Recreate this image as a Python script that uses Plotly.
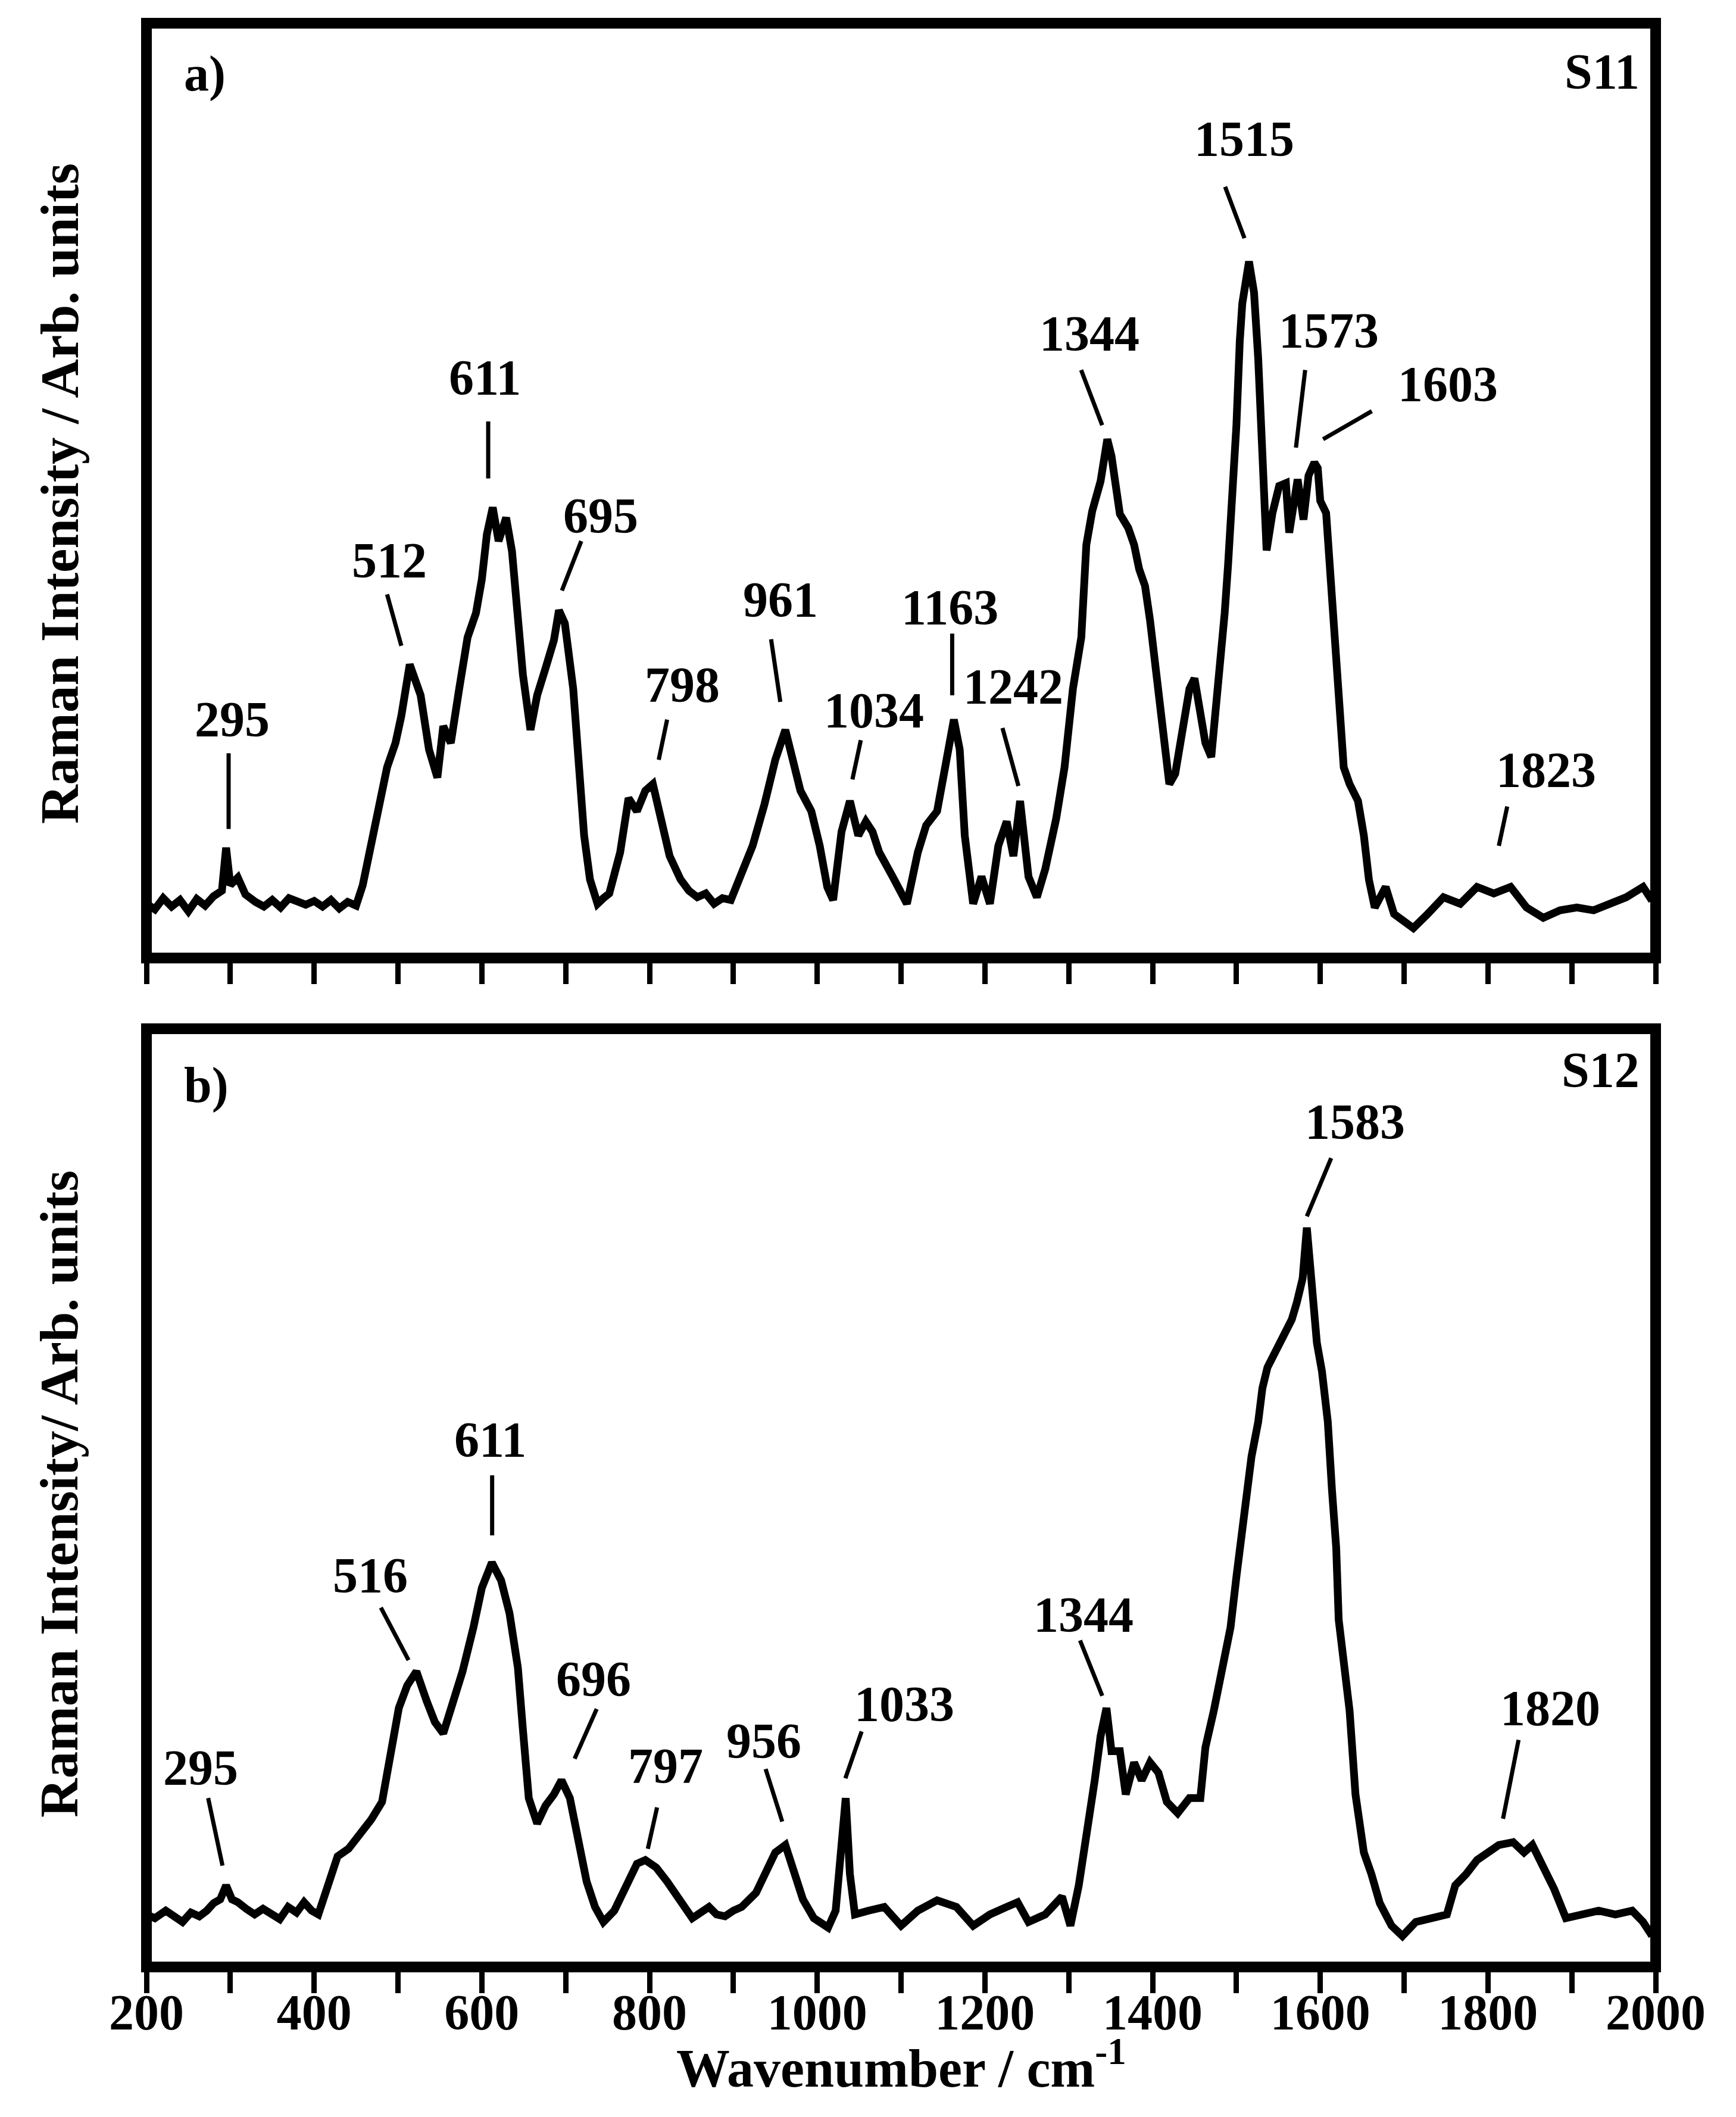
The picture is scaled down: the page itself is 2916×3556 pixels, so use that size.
import plotly.graph_objects as go

# ---------------- data ----------------
wavenumber_a = [200, 210, 220, 230, 240, 250, 260, 270, 280, 290, 295, 300, 309, 318, 330, 340, 350, 360, 370, 380,
                390, 400, 410, 420, 430, 440, 450, 458, 468, 478, 487, 497, 504, 514, 520, 527, 537, 547, 554, 563,
                573, 583, 593, 600, 606, 613, 620, 629, 636, 643, 649, 658, 666, 676, 686, 692, 699, 709, 715, 722,
                729, 738, 745, 752, 765, 775, 785, 795, 804, 814, 824, 837, 847, 857, 867, 877, 887, 897, 910, 923,
                937, 950, 962, 970, 980, 993, 1003, 1012, 1019, 1029, 1039, 1049, 1058, 1066, 1074, 1090, 1100, 1107,
                1120, 1130, 1143, 1153, 1163, 1170, 1176, 1186, 1196, 1206, 1216, 1226, 1234, 1242, 1252, 1262, 1272,
                1285, 1295, 1305, 1315, 1321, 1328, 1338, 1346, 1351, 1361, 1371, 1378, 1384, 1391, 1397, 1404, 1411,
                1417, 1420, 1427, 1437, 1444, 1450, 1457, 1463, 1470, 1477, 1486, 1490, 1496, 1500, 1504, 1507, 1515,
                1521, 1526, 1529, 1533, 1536, 1543, 1551, 1559, 1563, 1573, 1580, 1586, 1593, 1597, 1600, 1607, 1612,
                1619, 1622, 1628, 1635, 1645, 1652, 1658, 1665, 1678, 1688, 1700, 1711, 1728, 1747, 1767, 1787, 1807,
                1827, 1846, 1866, 1886, 1906, 1926, 1945, 1965, 1985, 1993, 2000]
intensity_a = [5.8, 5.2, 6.4, 5.5, 6.2, 5.0, 6.3, 5.6, 6.6, 7.2, 11.8, 7.8, 8.6, 6.8, 6.0, 5.5, 6.2, 5.4, 6.4, 6.0,
               5.7, 6.1, 5.5, 6.2, 5.3, 6.0, 5.6, 7.8, 12.4, 16.8, 20.4, 23.0, 25.9, 31.4, 29.8, 28.1, 22.3, 19.3, 24.8, 23.0,
               28.8, 34.3, 36.9, 40.5, 45.3, 48.2, 44.6, 47.1, 43.5, 36.1, 30.3, 24.4, 28.1, 31.0, 34.0, 37.2, 35.8, 28.8, 20.4, 13.1,
               8.4, 5.8, 6.4, 6.9, 11.3, 17.1, 15.7, 17.9, 18.6, 14.9, 10.9, 8.4, 7.2, 6.5, 6.9, 5.8, 6.4, 6.2, 9.1, 12.0,
               16.4, 21.2, 24.4, 21.5, 17.9, 15.7, 12.0, 7.6, 6.2, 13.5, 16.8, 13.1, 14.6, 13.5, 11.3, 8.7, 7.0, 5.8,
               11.3, 14.2, 15.7, 20.4, 25.5, 22.3, 13.1, 5.8, 8.7, 5.8, 12.0, 14.6, 10.9, 16.8, 8.7, 6.5, 9.5,
               14.9, 20.4, 28.8, 34.3, 44.2, 47.8, 51.0, 55.5, 53.7, 47.5, 46.0, 44.2, 41.6, 39.8, 36.1, 31.0, 25.2,
               20.4, 18.6, 19.7, 25.9, 28.8, 29.9, 25.9, 23.0, 21.5, 27.7, 36.9, 42.0, 50.7, 57.0, 66.0, 70.0, 74.5,
               71.2, 64.1, 57.0, 50.0, 43.6, 47.6, 50.5, 50.8, 45.5, 51.2, 46.9, 51.6, 53.0, 52.4, 48.9, 47.6, 41.0,
               33.0, 27.7, 20.4, 18.6, 16.8, 13.1, 8.4, 5.4, 7.6, 4.7, 4.0, 3.2, 4.7, 6.5, 5.8, 7.6, 6.9,
               7.6, 5.4, 4.3, 5.1, 5.4, 5.1, 5.8, 6.5, 7.6, 6.5, 7.0]

wavenumber_b = [200, 210, 223, 233, 243, 253, 263, 272, 280, 288, 295, 302, 309, 319, 329, 339, 349, 359, 369, 379,
                388, 397, 405, 415, 428, 441, 454, 468, 481, 491, 501, 511, 522, 534, 544, 554, 563, 577, 590, 600,
                612, 623, 633, 643, 649, 656, 666, 676, 686, 695, 705, 715, 725, 735, 745, 758, 771, 785, 795, 808,
                821, 834, 851, 861, 871, 880, 890, 900, 910, 927, 940, 950, 962, 973, 983, 996, 1013, 1022, 1029, 1034,
                1039, 1045, 1061, 1080, 1100, 1120, 1143, 1166, 1186, 1206, 1226, 1239, 1252, 1272, 1292, 1302, 1312,
                1321, 1331, 1338, 1345, 1351, 1361, 1368, 1378, 1387, 1397, 1407, 1417, 1430, 1444, 1457, 1463, 1473,
                1483, 1493, 1500, 1504, 1513, 1518, 1526, 1531, 1537, 1546, 1556, 1566, 1572, 1579, 1584, 1589, 1596,
                1602, 1609, 1614, 1619, 1622, 1628, 1635, 1642, 1652, 1661, 1671, 1685, 1698, 1714, 1734, 1751, 1761,
                1774, 1787, 1800, 1813, 1830, 1843, 1853, 1866, 1879, 1893, 1912, 1932, 1952, 1972, 1985, 1993, 2000]
intensity_b = [5.6, 5.2, 6.0, 5.3, 4.8, 5.8, 5.4, 6.0, 6.8, 7.2, 8.7, 7.2, 6.9, 6.2, 5.6, 6.2, 5.6, 5.1, 6.4, 5.8,
               6.9, 6.0, 5.6, 8.3, 11.8, 12.6, 14.1, 15.7, 17.6, 23.0, 27.6, 30.0, 31.5, 28.4, 26.1, 24.9, 27.6, 31.5, 36.2, 40.4,
               43.1, 41.2, 37.7, 31.9, 25.3, 18.0, 15.3, 17.2, 18.4, 19.9, 18.0, 13.0, 9.1, 6.4, 4.8, 6.0, 8.3, 11.0, 11.4, 10.6,
               9.1, 7.5, 5.2, 5.8, 6.4, 5.6, 5.4, 6.0, 6.4, 7.9, 10.6, 12.2, 13.0, 9.9, 7.2, 5.2, 4.2, 6.0, 13.7, 18.0,
               9.9, 5.6, 6.0, 6.4, 4.4, 6.0, 7.1, 6.4, 4.4, 5.6, 6.4, 6.9, 4.8, 5.6, 7.5, 4.4, 8.7,
               13.7, 19.9, 24.6, 27.6, 23.0, 23.0, 18.4, 21.8, 19.9, 21.8, 20.7, 17.6, 16.4, 18.0, 18.0, 23.4, 27.3,
               31.9, 36.2, 41.6, 44.7, 50.8, 54.4, 58.1, 61.7, 63.9, 65.4, 67.2, 69.0, 70.8, 73.4, 78.8, 74.1, 66.5,
               63.5, 58.1, 50.8, 44.7, 37.0, 33.1, 27.3, 18.4, 12.2, 9.9, 6.8, 4.4, 3.3, 4.8, 5.2, 5.6, 8.7,
               9.9, 11.4, 12.2, 13.0, 13.3, 12.2, 13.0, 10.6, 8.3, 5.2, 5.6, 6.0, 5.6, 6.0, 4.8, 3.7, 4.2]

major_ticks = list(range(200, 2001, 200))
major_labels = [str(v) for v in major_ticks]

# peak labels: text, label centre (wavenumber, intensity), leader line (x0, y0, x1, y1)
peak_text_a = ["295", "512", "611", "695", "798", "961", "1034", "1163", "1242", "1344", "1515", "1573", "1603", "1823"]
peak_pos_a = [(302, 25.5), (490, 42.5), (604, 62.1), (742, 47.3), (839, 29.2), (956, 38.3), (1068, 26.5),
              (1158, 37.5), (1234, 29.0), (1325, 66.8), (1509, 87.6), (1610, 67.1), (1752, 61.4), (1869, 20.1)]
peak_line_a = [(298, 21.9, 298, 13.8), (487, 38.9, 504, 33.4), (607.6, 57.4, 607.6, 51.3), (718.6, 44.6, 695.5, 39.3),
               (821, 25.5, 811, 21.2), (945, 34.1, 956, 27.4), (1052, 23.3, 1042, 19.1), (1161, 34.7, 1161, 28.1),
               (1221, 24.6, 1240, 18.4), (1314.8, 62.9, 1339.9, 57.0), (1486.5, 82.5, 1509.6, 77.0),
               (1582, 62.9, 1571, 54.6), (1661.5, 58.5, 1603.4, 55.5), (1823, 16.2, 1813, 12.0)]

peak_text_b = ["295", "516", "611", "696", "797", "956", "1033", "1344", "1583", "1820"]
peak_pos_b = [(264.3, 21.2), (467, 41.7), (610.3, 56.2), (733, 30.7), (819, 21.4), (936, 24.1), (1104, 28.0),
              (1317.5, 37.5), (1641.7, 90.1), (1874, 27.6)]
peak_line_b = [(273.6, 18.0, 290.7, 10.8), (479.6, 38.3, 512.6, 32.7), (612.3, 52.4, 612.3, 46.0),
               (737, 27.5, 710.7, 22.2), (809, 17.0, 798, 12.6), (938.5, 21.1, 958.3, 15.5),
               (1053, 25.1, 1033.6, 20.1), (1313.5, 34.8, 1340, 28.9), (1613, 86.2, 1584, 80.0),
               (1836.5, 24.2, 1818, 15.8)]

panel_tags = ["a)", "b)"]
sample_names = ["S11", "S12"]
y_titles = ["Raman Intensity / Arb. units", "Raman Intensity/ Arb. units"]
x_title = "Wavenumber / cm<sup>-1</sup>"

# ---------------- figure ----------------
FONT = "Liberation Serif"
W, H = 2908, 3548           # page body has an 8 px margin
ML, MR, MT, MB = 238, 135, 31, 252

fig = go.Figure()
fig.add_trace(go.Scatter(x=wavenumber_a, y=intensity_a, mode="lines",
                         line=dict(color="black", width=13), xaxis="x", yaxis="y", showlegend=False))
fig.add_trace(go.Scatter(x=wavenumber_b, y=intensity_b, mode="lines",
                         line=dict(color="black", width=13), xaxis="x2", yaxis="y2", showlegend=False))

xcommon = dict(range=[200, 2000], tickmode="array", tickvals=major_ticks, ticks="outside", ticklen=43,
               tickwidth=9, tickcolor="black", showgrid=False, zeroline=False, showline=False,
               minor=dict(tick0=200, dtick=100, ticks="outside", ticklen=43, tickwidth=9, tickcolor="black",
                          showgrid=False))
ycommon = dict(range=[0, 100], showticklabels=False, ticks="", showgrid=False, zeroline=False, showline=False)

fig.update_layout(
    width=W, height=H, margin=dict(l=ML, r=MR, t=MT, b=MB),
    paper_bgcolor="white", plot_bgcolor="white",
    font=dict(family=FONT, color="black", size=84, weight="bold"),
    xaxis=dict(domain=[0, 1], anchor="y", showticklabels=False, **xcommon),
    yaxis=dict(domain=[0.5191, 1], anchor="x", **ycommon),
    xaxis2=dict(domain=[0, 1], anchor="y2", ticktext=major_labels, showticklabels=True, ticklabelstandoff=-40,
                tickfont=dict(family=FONT, size=84, color="black", weight="bold"), **xcommon),
    yaxis2=dict(domain=[0, 0.4827], anchor="x2", **ycommon),
)

shapes = []
annotations = []
lab_font = dict(family=FONT, size=84, color="black", weight="bold")
for (xr, yr, texts, pos, lines) in [("x", "y", peak_text_a, peak_pos_a, peak_line_a),
                                     ("x2", "y2", peak_text_b, peak_pos_b, peak_line_b)]:
    for t, (px, py), (x0, y0, x1, y1) in zip(texts, pos, lines):
        annotations.append(dict(x=px, y=py, xref=xr, yref=yr, text=t, showarrow=False,
                                xanchor="center", yanchor="middle", font=lab_font))
        shapes.append(dict(type="line", xref=xr, yref=yr, x0=x0, y0=y0, x1=x1, y1=y1,
                           line=dict(color="black", width=7)))
    # frame
    shapes.append(dict(type="rect", xref=xr + " domain", yref=yr + " domain", x0=0, x1=1, y0=0, y1=1,
                       line=dict(color="black", width=18), layer="above"))

tag_y = [0.946, 0.940]
name_y = [0.948, 0.956]
for i, (xr, yr) in enumerate([("x", "y"), ("x2", "y2")]):
    annotations.append(dict(x=0.024, y=tag_y[i], xref=xr + " domain", yref=yr + " domain", text=panel_tags[i],
                            showarrow=False, xanchor="left", yanchor="middle", font=lab_font))
    annotations.append(dict(x=0.990, y=name_y[i], xref=xr + " domain", yref=yr + " domain", text=sample_names[i],
                            showarrow=False, xanchor="right", yanchor="middle", font=lab_font))

title_font = dict(family=FONT, size=91, color="black", weight="bold")
for i, yc in enumerate([0.758, 0.2435]):
    annotations.append(dict(x=-0.0576, y=yc, xref="paper", yref="paper", text=y_titles[i], textangle=-90,
                            showarrow=False, xanchor="center", yanchor="middle", font=title_font))
annotations.append(dict(x=0.5, y=-0.050, xref="paper", yref="paper", text=x_title, showarrow=False,
                        xanchor="center", yanchor="middle", font=dict(family=FONT, size=90, color="black", weight="bold")))

fig.update_layout(shapes=shapes, annotations=annotations)
fig.write_html("out.html")
